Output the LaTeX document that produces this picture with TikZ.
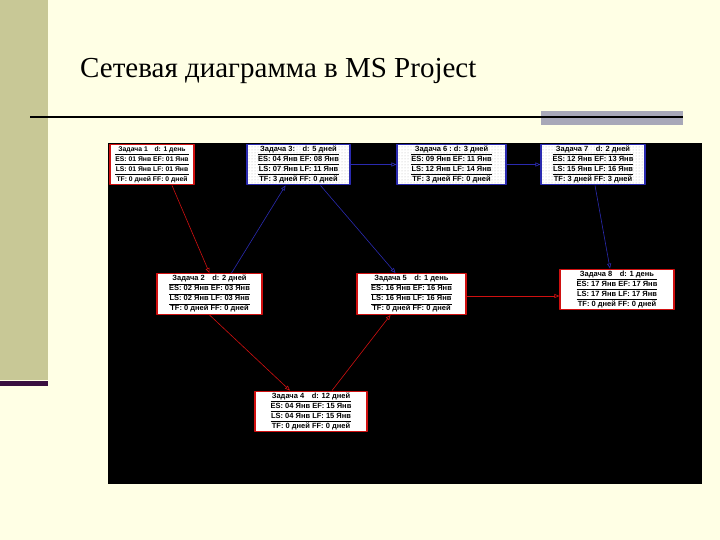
\documentclass[tikz,border=0pt]{standalone}
\usepackage{fontspec}
\setmainfont{Liberation Serif}
\newfontfamily\boxfont{Liberation Sans}
\usetikzlibrary{arrows.meta,patterns}
\definecolor{slidebg}{HTML}{FFFFE5}
\definecolor{sidebar}{HTML}{C8C896}
\definecolor{sidedark}{HTML}{3A1040}
\definecolor{bargray}{HTML}{A8A8B8}
\definecolor{critred}{HTML}{D01010}
\definecolor{slackblue}{HTML}{2A2AB0}
\newcommand{\tasktab}[4]{\renewcommand{\arraystretch}{1.12}%
\begin{tabular}{@{}c@{}}#1\\\hline #2\\\hline #3\\\hline #4\end{tabular}}
\tikzset{
 task/.style={draw=critred, line width=1.2pt, fill=white, inner xsep=2pt, inner ysep=0.5pt,
  font=\boxfont\fontsize{7.5}{8.6}\selectfont\bfseries},
 slack/.style={task, draw=slackblue, fill=none, preaction={fill=white}, pattern=dots, pattern color=gray!55},
 crit/.style={draw=critred, line width=0.6pt, -{Triangle[open,length=5pt,width=4pt]}},
 free/.style={draw=slackblue, line width=0.6pt, -{Triangle[open,length=5pt,width=4pt]}},
}
\begin{document}
\begin{tikzpicture}[x=1pt,y=-1pt, line join=round]
\useasboundingbox (0,0) rectangle (720,540);
\fill[slidebg] (0,0) rectangle (720,540);
% slide frame
\fill[sidebar] (0,0) rectangle (48,380);
\fill[sidedark] (0,381) rectangle (48,386);
\node[anchor=base west, inner sep=0pt, font=\fontsize{29}{32}\selectfont] (title) at (80,78) {Сетевая диаграмма в MS Project};
\fill[bargray] (541,111) rectangle (683,125);
\draw[line width=2pt] (30,117)--(683,117);
% network
\fill[black] (108,143) rectangle (702,484);
\node[task, minimum width=84pt, font=\boxfont\fontsize{6.8}{8.6}\selectfont\bfseries] (t1) at (152,164.5) {\tasktab{Задача 1\quad d: 1 день}{ES: 01 Янв EF: 01 Янв}{LS: 01 Янв LF: 01 Янв}{TF: 0 дней FF: 0 дней}};
\node[slack, minimum width=103pt] (t3) at (298.5,164.5) {\tasktab{Задача 3:\quad d: 5 дней}{ES: 04 Янв EF: 08 Янв}{LS: 07 Янв LF: 11 Янв}{TF: 3 дней FF: 0 дней}};
\node[slack, minimum width=109pt] (t6) at (451.5,164.5) {\tasktab{Задача 6 :\ d: 3 дней}{ES: 09 Янв EF: 11 Янв}{LS: 12 Янв LF: 14 Янв}{TF: 3 дней FF: 0 дней}};
\node[slack, minimum width=104pt] (t7) at (593,164.5) {\tasktab{Задача 7\quad d: 2 дней}{ES: 12 Янв EF: 13 Янв}{LS: 15 Янв LF: 16 Янв}{TF: 3 дней FF: 3 дней}};
\node[task, minimum width=105pt] (t2) at (209.5,294) {\tasktab{Задача 2\quad d: 2 дней}{ES: 02 Янв EF: 03 Янв}{LS: 02 Янв LF: 03 Янв}{TF: 0 дней FF: 0 дней}};
\node[task, minimum width=109pt] (t5) at (411.5,294) {\tasktab{Задача 5\quad d: 1 день}{ES: 16 Янв EF: 16 Янв}{LS: 16 Янв LF: 16 Янв}{TF: 0 дней FF: 0 дней}};
\node[task, minimum width=114pt] (t8) at (617,289.5) {\tasktab{Задача 8\quad d: 1 день}{ES: 17 Янв EF: 17 Янв}{LS: 17 Янв LF: 17 Янв}{TF: 0 дней FF: 0 дней}};
\node[task, minimum width=112pt] (t4) at (311,411.5) {\tasktab{Задача 4\quad d: 12 дней}{ES: 04 Янв EF: 15 Янв}{LS: 04 Янв LF: 15 Янв}{TF: 0 дней FF: 0 дней}};
% links
\draw[crit] ([xshift=20pt]t1.south) -- (t2.north);
\draw[free] ([xshift=22pt]t2.north) -- ([xshift=-13pt]t3.south);
\draw[free] ([xshift=22pt]t3.south) -- ([xshift=-16pt]t5.north);
\draw[free] (t3.east) -- (t6.west);
\draw[free] (t6.east) -- (t7.west);
\draw[free] ([xshift=2pt]t7.south) -- ([xshift=-7pt]t8.north);
\draw[crit] (t2.south) -- ([xshift=-21pt]t4.north);
\draw[crit] ([xshift=21pt]t4.north) -- ([xshift=-21pt]t5.south);
\draw[crit] ([yshift=-2pt]t5.east) -- ([yshift=-2pt]t5.east -| t8.west);
\end{tikzpicture}
\end{document}
